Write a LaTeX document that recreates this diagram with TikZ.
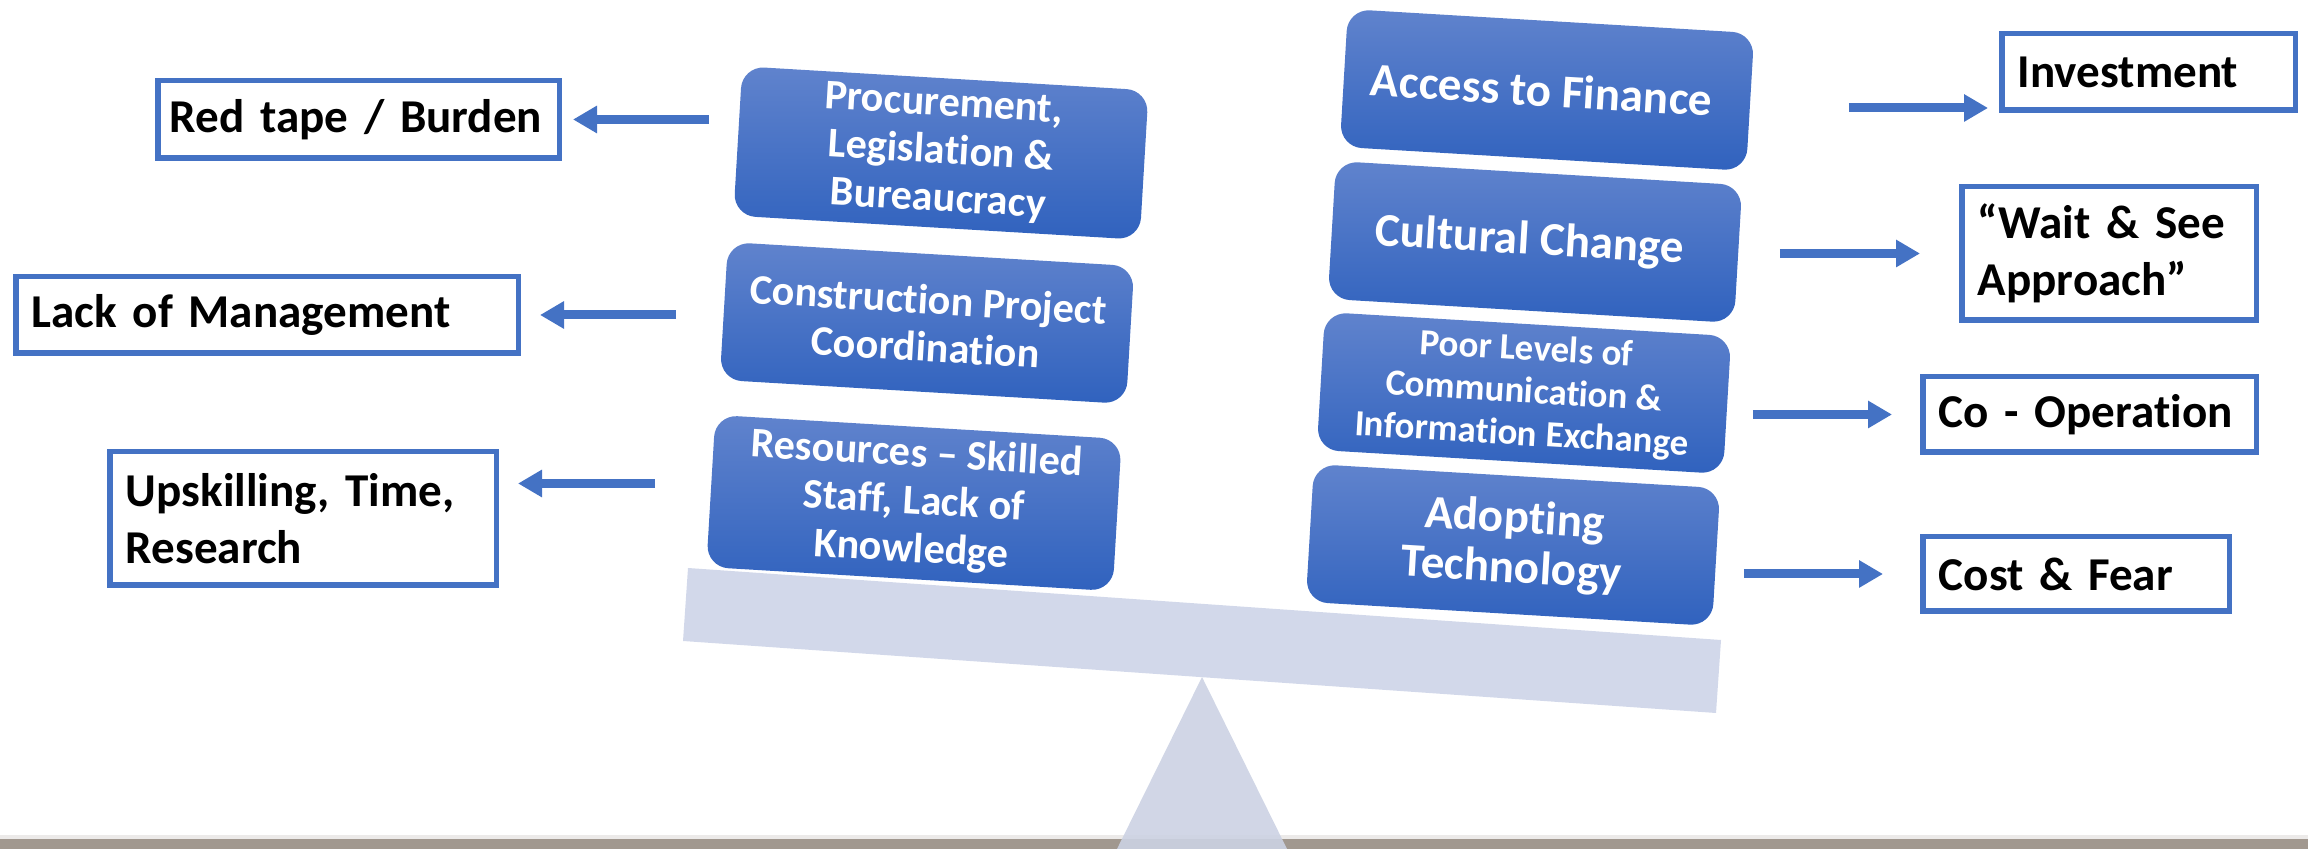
\documentclass[tikz,border=0pt]{standalone}
\usepackage{fontspec}
\setmainfont{Carlito}[Ligatures=NoCommon]
\usetikzlibrary{positioning,arrows.meta}
\definecolor{boxblue}{HTML}{4472C4}
\definecolor{shadetop}{HTML}{6083CD}
\definecolor{shadebot}{HTML}{3062BE}
\definecolor{plankgrey}{HTML}{D2D8EA}
\definecolor{groundgrey}{HTML}{A1988F}
\tikzset{
  bluebox/.style={
    rectangle,
    rounded corners=2.2mm,
    top color=shadetop,
    bottom color=shadebot,
    % draw=black,
    text=white,
    align=center,
    minimum width=40.7mm,
    minimum height=13.8mm,
    inner sep=1mm,
    rotate=-3.4},
  bigtext/.style={font=\bfseries\fontsize{13.4}{14.2}\selectfont},
  midtext/.style={font=\bfseries\fontsize{12}{13.6}\selectfont},
  smalltext/.style={font=\bfseries\fontsize{10.5}{12.1}\selectfont},
  labelbox/.style={
    rectangle,
    draw=boxblue, line width=0.55mm,
    fill=white,
    align=left,
    inner xsep=1.6mm,
    anchor=north west,
    font=\bfseries\fontsize{13.4}{16.4}\selectfont},
  pointer/.style={draw=boxblue, line width=0.9mm,
    -{Triangle[length=2.4mm,width=2.6mm]}},
}

\begin{document}
\begin{tikzpicture}[x=0.1mm,y=-0.1mm]
\useasboundingbox (0,0) rectangle (2308,849);

% the seesaw
\fill[groundgrey!20] (0,835) rectangle (2308,839);
\fill[groundgrey] (0,839) rectangle (2308,849);
\fill[plankgrey] (688,568) -- (1721,640) -- (1716,713) -- (683,641) -- cycle;
\fill[plankgrey!97!black, fill opacity=0.9] (1202,677) -- (1287,849) -- (1117,849) -- cycle;

% left pile
\node[bluebox, midtext] (proc) at (941,153) {
Procurement,\\ Legislation \&\\ Bureaucracy
};
\node[bluebox, midtext] (constr) at (927,323) {
Construction Project\\ Coordination
};
\node[bluebox, midtext] (res) at (914,503) {
Resources – Skilled\\ Staff, Lack of\\ Knowledge
};

% right pile
\node[bluebox, bigtext] (access) at (1547,90) {
Access to Finance
};
\node[bluebox, bigtext] (cultural) at (1535,242) {
Cultural Change
};
\node[bluebox, smalltext] (poor) at (1524,393) {
Poor Levels of\\ Communication \&\\ Information Exchange
};
\node[bluebox, bigtext] (adopt) at (1513,545) {
Adopting\\ Technology
};

% outcomes
\node[labelbox, inner xsep=1.2mm, text width=37.75mm, minimum height=7.75mm] (redtape) at (155,78) {
Red tape / Burden
};
\node[labelbox, text width=47.05mm, minimum height=7.65mm] (lackman) at (13,274) {
Lack of Management
};
\node[labelbox, text width=35.45mm, minimum height=13.35mm] (upskill) at (107,449) {
Upskilling, Time,\\ Research
};
\node[labelbox, text width=26.15mm, minimum height=7.65mm] (invest) at (1999,31) {
Investment
};
\node[labelbox, text width=26.25mm, minimum height=13.35mm] (waitsee) at (1959,184) {
“Wait \& See\\ Approach”
};
\node[labelbox, text width=30.15mm, minimum height=7.55mm] (coop) at (1920,374) {
Co - Operation
};
\node[labelbox, text width=27.45mm, minimum height=7.45mm] (costfear) at (1920,534) {
Cost \& Fear
};

\draw[pointer] ([xshift=-2.8mm]proc.west |- redtape.east) -- ([xshift=1.1mm]redtape.east);
\draw[pointer] ([xshift=-4.7mm]constr.west |- lackman.east) -- ([xshift=1.9mm]lackman.east);
\draw[pointer] ([xshift=-5.5mm,yshift=3.5mm]res.west |- upskill.east) -- ([xshift=1.9mm,yshift=3.5mm]upskill.east);
\draw[pointer] ([xshift=9.8mm,yshift=-3.6mm]access.east |- invest.west) -- ([xshift=-1.1mm,yshift=-3.6mm]invest.west);
\draw[pointer] ([xshift=4.1mm]cultural.east |- waitsee.west) -- ([xshift=-3.9mm]waitsee.west);
\draw[pointer] ([xshift=2.5mm]poor.east |- coop.west) -- ([xshift=-2.8mm]coop.west);
\draw[pointer] ([xshift=2.7mm]adopt.east |- costfear.west) -- ([xshift=-3.7mm]costfear.west);

\end{tikzpicture}
\end{document}
